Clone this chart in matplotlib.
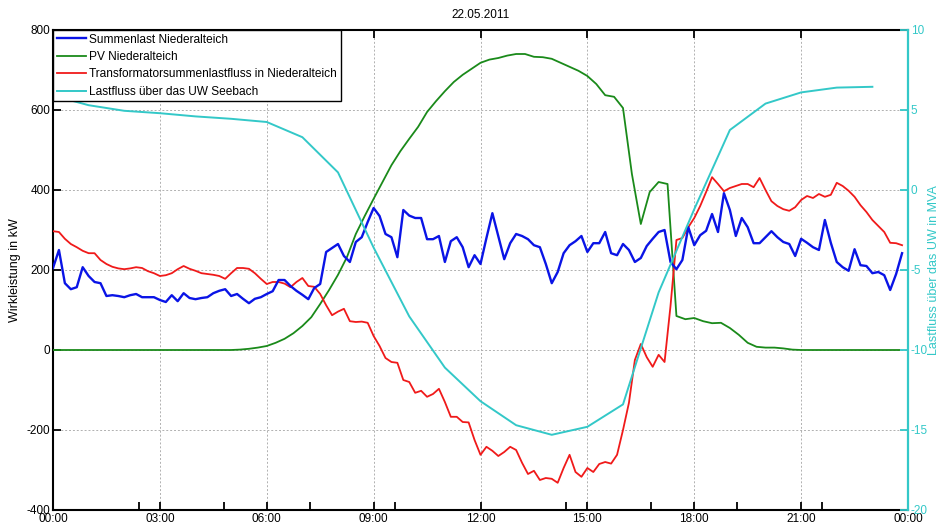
import numpy as np
import matplotlib
matplotlib.use("Agg")
import matplotlib.pyplot as plt
from matplotlib.ticker import FixedLocator

plt.rcParams['font.family'] = ['Liberation Sans', 'DejaVu Sans']
plt.rcParams['axes.unicode_minus'] = False

# ---------------- data ----------------
# 10-minute values (00:00 .. 23:50), kW
summenlast = [205, 250, 167, 152, 157, 207, 185, 170, 167, 135, 137, 135,
              132, 137, 140, 132, 132, 132, 125, 120, 137, 122, 142, 130,
              127, 130, 132, 142, 148, 152, 135, 140, 128, 117, 128, 132,
              140, 147, 175, 175, 160, 148, 138, 127, 155, 165, 245, 255,
              265, 235, 220, 270, 282, 320, 355, 335, 290, 282, 232, 350,
              336, 330, 330, 277, 277, 285, 220, 272, 282, 257, 207, 237,
              215, 280, 342, 285, 227, 267, 290, 285, 277, 262, 257, 215,
              167, 195, 242, 262, 272, 285, 245, 267, 267, 295, 242, 237,
              265, 250, 220, 230, 260, 278, 295, 300, 220, 202, 225, 307,
              262, 287, 298, 340, 295, 392, 350, 285, 330, 307, 267, 267,
              282, 297, 282, 270, 265, 235, 278, 268, 257, 250, 325, 268,
              220, 207, 198, 252, 212, 210, 192, 195, 187, 150, 190, 242]

trafo = [297, 295, 278, 265, 257, 248, 242, 242, 225, 215, 208, 204,
         202, 204, 207, 205, 197, 192, 185, 187, 192, 202, 210, 203,
         198, 192, 190, 188, 185, 178, 192, 205, 205, 203, 192, 178,
         165, 170, 170, 166, 157, 170, 180, 160, 158, 140, 112, 87,
         96, 103, 72, 70, 71, 68, 35, 10, -20, -30, -32, -75,
         -80, -107, -102, -117, -110, -97, -130, -167, -167, -180, -181, -225,
         -262, -242, -252, -265, -255, -242, -250, -282, -310, -302, -325, -320,
         -322, -332, -295, -262, -305, -317, -295, -305, -285, -280, -284, -262,
         -200, -132, -25, 15, -18, -42, -12, -30, 110, 275, 280, 307,
         330, 360, 395, 432, 415, 397, 405, 410, 415, 415, 407, 430,
         400, 372, 360, 352, 348, 357, 375, 385, 380, 390, 383, 388,
         418, 410, 398, 383, 362, 345, 325, 310, 295, 268, 267, 262]

# 15-minute values (00:00 .. 23:45), kW
pv = [0] * 21 + [1, 3, 6, 10, 18, 28, 42, 60, 82, 115, 150,
                 188, 232, 290, 335, 378, 420, 462, 497, 528, 558, 595, 622,
                 647, 670, 688, 703, 718, 726, 730, 736, 740, 740, 733, 732,
                 728, 718, 708, 698, 685, 665, 637, 633, 605, 440, 315, 395,
                 420, 415, 85, 77, 80, 72, 67, 68, 55, 38, 18, 8,
                 6, 6, 4, 1] + [0] * 12

# hourly values (00:00 .. 23:00), MVA
lastfluss_uw = [5.9, 5.3, 4.95, 4.8, 4.6, 4.45, 4.25, 3.3, 1.1, -3.6, -7.9, -11.1,
                -13.2, -14.7, -15.3, -14.8, -13.4, -6.4, -1.2, 3.75, 5.4, 6.1, 6.4, 6.45]

labels = ["Summenlast Niederalteich", "PV Niederalteich",
          "Transformatorsummenlastfluss in Niederalteich",
          "Lastfluss über das UW Seebach"]
xtick_labels = ["00:00", "03:00", "06:00", "09:00", "12:00",
                "15:00", "18:00", "21:00", "00:00"]
title = "22.05.2011"

t10 = np.arange(len(summenlast)) / 6.0
t15 = np.arange(len(pv)) / 4.0
t60 = np.arange(len(lastfluss_uw)) * 1.0

c_blue = "#0a14e6"
c_green = "#1a8a1a"
c_red = "#f01a1a"
c_teal = "#33c8c8"

# ---------------- figure ----------------
fig = plt.figure(figsize=(9.43, 5.29), dpi=100)
ax = fig.add_axes([53 / 943, 19 / 529, 855 / 943, 480 / 529])
ax2 = ax.twinx()

l1, = ax.plot(t10, summenlast, color=c_blue, lw=1.7, zorder=4)
l2, = ax.plot(t15, pv, color=c_green, lw=1.3, zorder=3)
l3, = ax.plot(t10, trafo, color=c_red, lw=1.3, zorder=3)
l4, = ax2.plot(t60, lastfluss_uw, color=c_teal, lw=1.4)

ax.set_xlim(0, 24)
ax.set_ylim(-400, 800)
ax2.set_ylim(-20, 10)

ax.set_xticks(np.arange(0, 25, 3))
ax.set_xticklabels(xtick_labels)
ax.xaxis.set_minor_locator(FixedLocator(np.arange(2.4, 24.01, 2.4)))
ax.set_yticks(np.arange(-400, 801, 200))
ax2.set_yticks(np.arange(-20, 11, 5))

ax.tick_params(axis='x', which='major', direction='in', length=6, width=1.3,
               top=True, bottom=True, labelsize=8.5, pad=2, colors='black')
ax.tick_params(axis='x', which='minor', direction='in', length=6, width=1.3,
               top=False, bottom=True)
ax.tick_params(axis='y', which='major', direction='in', length=6, width=1.3,
               left=True, right=False, labelsize=8.5, pad=2)
ax2.tick_params(axis='y', direction='in', length=6, width=1.3,
                colors=c_teal, labelsize=8.5, pad=2)

ax.grid(True, which='major', color='#b0b0b0', linestyle=(0, (2, 2)), lw=0.7)
ax.set_axisbelow(True)

for s in ['left', 'bottom', 'top']:
    ax.spines[s].set_linewidth(1.5)
    ax.spines[s].set_color('black')
ax.spines['right'].set_visible(False)
for s in ['left', 'bottom', 'top']:
    ax2.spines[s].set_visible(False)
ax2.spines['right'].set_color(c_teal)
ax2.spines['right'].set_linewidth(1.6)

ax.set_ylabel("Wirkleistung in kW", fontsize=9, labelpad=4)
ax2.set_ylabel("Lastfluss über das UW in MVA", fontsize=9, color=c_teal, labelpad=0)
ax.set_title(title, fontsize=8.5, pad=9)

leg = ax2.legend([l1, l2, l3, l4], labels, loc='upper left',
                 bbox_to_anchor=(0, 1), borderaxespad=0, fontsize=8.6,
                 frameon=True, fancybox=False, handlelength=2.5,
                 handletextpad=0.25, labelspacing=0.45, borderpad=0.3)
leg.get_frame().set_edgecolor('black')
leg.get_frame().set_linewidth(1.0)
leg.get_frame().set_alpha(1)

fig.savefig("out.png", dpi=100)
